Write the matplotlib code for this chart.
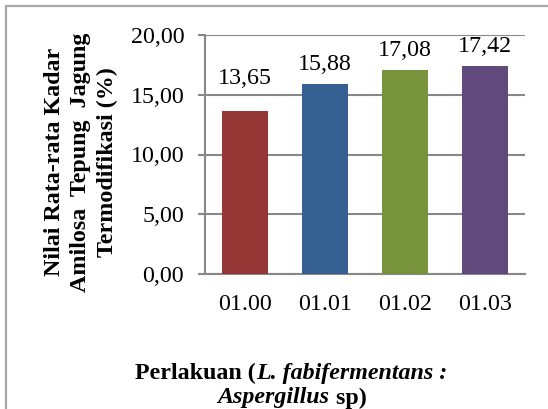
import numpy as np
import matplotlib
matplotlib.use("Agg")
import matplotlib.pyplot as plt
from matplotlib.patches import Rectangle

# Data
categories = ["01.00", "01.01", "01.02", "01.03"]
values = [13.65, 15.88, 17.08, 17.42]
value_labels = ["13,65", "15,88", "17,08", "17,42"]
bar_colors = ["#953735", "#376092", "#77933C", "#604A7B"]
yticks = [0, 5, 10, 15, 20]
ytick_labels = ["0,00", "5,00", "10,00", "15,00", "20,00"]

W, H = 548, 409
plt.rcParams['font.family'] = ['Liberation Serif', 'DejaVu Serif']
fs = 17.3
grid_color = '#888888'

fig = plt.figure(figsize=(W / 100, H / 100), dpi=100)
fig.patch.set_facecolor('white')

# outer frame (cut at right and bottom like the reference)
fig.patches.append(Rectangle((6 / W, -0.1), 1.2, (H - 6) / H + 0.1,
                             transform=fig.transFigure, fill=False,
                             edgecolor='#a6a6a6', linewidth=1.6))

ax = fig.add_axes([205 / W, (H - 274) / H, 320 / W, 239 / H])
x = np.arange(len(categories))
ax.bar(x, values, width=0.575, color=bar_colors, zorder=3)

ax.set_xlim(-0.5, len(categories) - 0.5)
ax.set_ylim(0, 20)
ax.set_yticks(yticks)
ax.set_yticklabels(ytick_labels, fontsize=fs)
ax.set_xticks(x)
ax.set_xticklabels(categories, fontsize=fs)
ax.yaxis.grid(True, color=grid_color, linewidth=1.5, zorder=0)
ax.tick_params(axis='y', length=5, width=1.5, color=grid_color, pad=10)
ax.tick_params(axis='x', length=0, pad=14.5)
for s in ['top', 'right']:
    ax.spines[s].set_visible(False)
ax.spines['left'].set_color(grid_color)
ax.spines['left'].set_linewidth(1.5)
ax.spines['bottom'].set_color(grid_color)
ax.spines['bottom'].set_linewidth(1.5)

# value labels (the first one sits a bit higher in the reference)
label_offsets = [23.5, 14, 14, 14]
for xi, v, lab, off in zip(x, values, value_labels, label_offsets):
    ax.annotate(lab, (xi, v), xytext=(0, off), textcoords='offset points',
                ha='center', va='center', fontsize=fs)

# y axis title
fig.text(81 / W, 1 - 162 / H,
         "Nilai Rata-rata Kadar\nAmilosa  Tepung  Jagung\nTermodifikasi (%)",
         rotation=90, ha='center', va='center', multialignment='center',
         fontsize=fs, fontweight='bold', linespacing=1.35)


# x axis title with mixed bold / bold italic pieces
def mixed_line(pieces, xc, yc):
    fig.canvas.draw()
    r = fig.canvas.get_renderer()
    texts = []
    for s, style in pieces:
        t = fig.text(0, yc, s, fontsize=fs, fontweight='bold', fontstyle=style,
                     ha='left', va='center')
        texts.append(t)
    widths = [t.get_window_extent(r).width for t in texts]
    total = sum(widths)
    start = xc * W - total / 2
    for t, w in zip(texts, widths):
        t.set_x(start / W)
        start += w


mixed_line([("Perlakuan (", 'normal'), ("L. fabifermentans :", 'italic')],
           291 / W, 1 - 373 / H)
mixed_line([("Aspergillus", 'italic'), (" sp)", 'normal')],
           292 / W, 1 - 398 / H)

fig.savefig("out.png", dpi=100)
